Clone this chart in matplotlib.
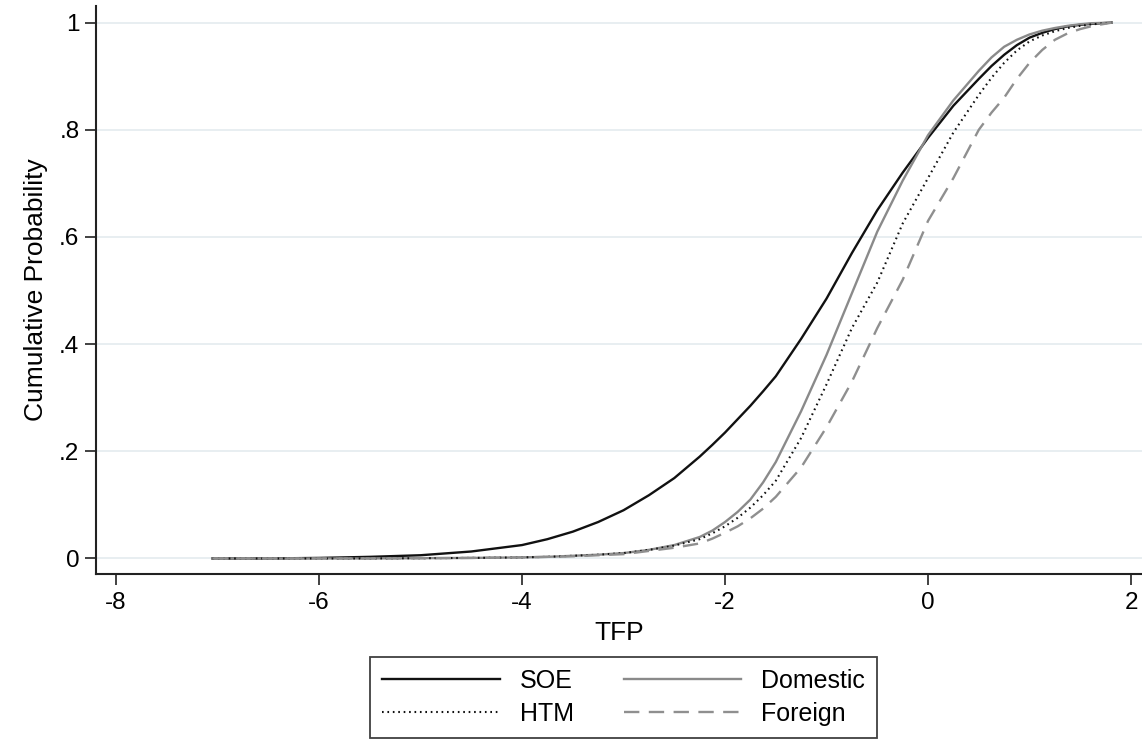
import numpy as np
import matplotlib
matplotlib.use("Agg")
import matplotlib.pyplot as plt

plt.rcParams['font.family'] = ['Liberation Sans', 'DejaVu Sans']

# TFP grid shared by the four curves
tfp = [-7.05, -6.5, -6.0, -5.5, -5.0, -4.5, -4.0, -3.75, -3.5, -3.25, -3.0, -2.75, -2.5, -2.25,
       -2.125, -2.0, -1.875, -1.75, -1.625, -1.5, -1.25, -1.0, -0.75, -0.5, -0.25,
       0.0, 0.25, 0.5, 0.625, 0.75, 0.875, 1.0, 1.125, 1.25, 1.375, 1.5, 1.625, 1.81]

soe = [0.0, 0.0, 0.001, 0.003, 0.006, 0.013, 0.025, 0.036, 0.05, 0.068, 0.09, 0.118, 0.15, 0.19,
       0.212, 0.235, 0.26, 0.285, 0.312, 0.34, 0.41, 0.485, 0.57, 0.65, 0.72,
       0.785, 0.845, 0.895, 0.919, 0.94, 0.958, 0.972, 0.981, 0.988, 0.993, 0.996, 0.998, 1.0]
domestic = [0.0, 0.0, 0.0, 0.0, 0.0005, 0.001, 0.002, 0.003, 0.005, 0.007, 0.01, 0.016, 0.025, 0.04,
            0.052, 0.068, 0.087, 0.11, 0.142, 0.18, 0.275, 0.38, 0.495, 0.61, 0.705,
            0.79, 0.855, 0.91, 0.935, 0.955, 0.968, 0.978, 0.985, 0.99, 0.994, 0.997, 0.999, 1.0]
htm = [0.0, 0.0, 0.0, 0.0, 0.0005, 0.001, 0.002, 0.003, 0.005, 0.007, 0.01, 0.016, 0.024, 0.036,
       0.047, 0.06, 0.076, 0.095, 0.118, 0.145, 0.225, 0.325, 0.43, 0.515, 0.625,
       0.71, 0.795, 0.865, 0.897, 0.925, 0.948, 0.965, 0.976, 0.984, 0.99, 0.994, 0.997, 1.0]
foreign = [0.0, 0.0, 0.0, 0.0, 0.0005, 0.001, 0.002, 0.003, 0.004, 0.006, 0.008, 0.014, 0.02, 0.028,
           0.037, 0.048, 0.06, 0.075, 0.093, 0.115, 0.17, 0.245, 0.33, 0.43, 0.52,
           0.63, 0.71, 0.8, 0.832, 0.86, 0.895, 0.925, 0.949, 0.968, 0.98, 0.988, 0.994, 1.0]

yticks = [0, 0.2, 0.4, 0.6, 0.8, 1]
ytick_labels = ['0', '.2', '.4', '.6', '.8', '1']
xticks = [-8, -6, -4, -2, 0, 2]

fig = plt.figure(figsize=(11.42, 7.44), dpi=100)
ax = fig.add_axes([0.0841, 0.2285, 0.9159, 0.7634])

ax.plot(tfp, soe, color='#111111', lw=1.7, label='SOE')
ax.plot(tfp, domestic, color='#8a8a8a', lw=1.7, label='Domestic')
ax.plot(tfp, htm, color='#111111', lw=1.5, linestyle=(0, (0.8, 1.8)), label='HTM')
ax.plot(tfp, foreign, color='#8f8f8f', lw=1.7, linestyle=(0, (6.5, 4)), label='Foreign')

ax.set_xlim(-8.197, 2.108)
ax.set_ylim(-0.029, 1.031)
ax.set_xticks(xticks)
ax.set_xticklabels([str(t) for t in xticks])
ax.set_yticks(yticks)
ax.set_yticklabels(ytick_labels)
ax.yaxis.grid(True, color='#e6edf0', lw=1.3)
ax.set_axisbelow(True)

for s in ['top', 'right']:
    ax.spines[s].set_visible(False)
for s in ['left', 'bottom']:
    ax.spines[s].set_color('#222222')
    ax.spines[s].set_linewidth(1.5)
ax.tick_params(axis='both', labelsize=17.5, length=8, width=1.3, color='#333333', pad=4)
ax.tick_params(axis='x', pad=5)

ax.set_xlabel('TFP', fontsize=19, labelpad=5)
ax.set_ylabel('Cumulative Probability', fontsize=19, labelpad=8)

# legend order: SOE, HTM in first column; Domestic, Foreign in second
h, l = ax.get_legend_handles_labels()
order = [0, 2, 1, 3]
leg = fig.legend([h[i] for i in order], [l[i] for i in order], ncol=2,
                 loc='upper center', bbox_to_anchor=(0.546, 0.118 + 12 / 744),
                 fontsize=18, frameon=True, fancybox=False, handlelength=4.7,
                 handletextpad=0.8, columnspacing=2.0, borderpad=0.5,
                 labelspacing=0.35)
leg.get_frame().set_edgecolor('#111111')
leg.get_frame().set_linewidth(1.3)

fig.savefig('out.png', dpi=100)
